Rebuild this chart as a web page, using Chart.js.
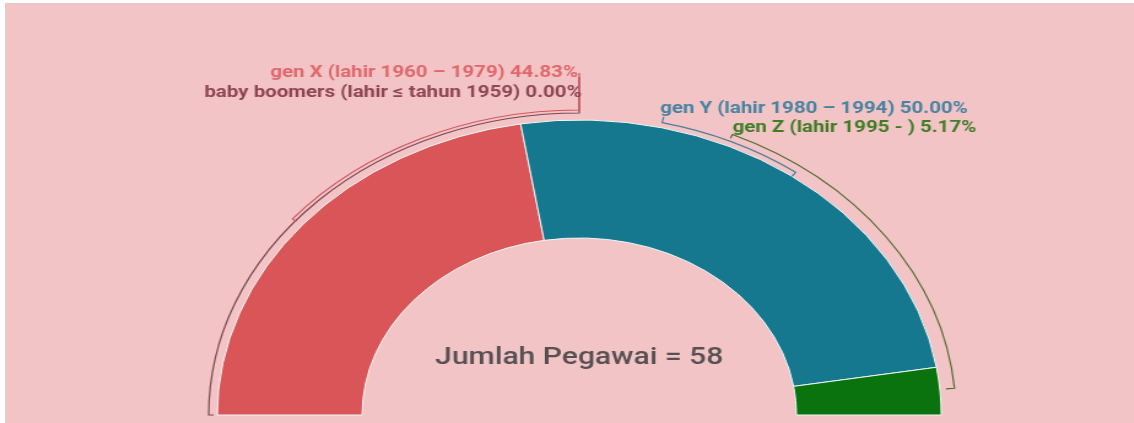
<!DOCTYPE html>
<html>
<head>
<meta charset="utf-8">
<script src="https://cdn.jsdelivr.net/npm/chart.js@4.4.0/dist/chart.umd.min.js"></script>
<style>
  html, body { margin: 0; padding: 0; background: #fff; overflow: hidden; }
  #panel {
    position: absolute; left: 5px; top: 3px;
    width: 1129px; height: 420px;
    background: #f2c4c6; overflow: hidden;
  }
  /* the original picture is stretched sideways, so the canvas is too */
  #pegawai-chart { transform: scaleX(1.227); transform-origin: 0 0; }
</style>
</head>
<body>
<div id="panel">
  <canvas id="pegawai-chart" width="920" height="420"></canvas>
</div>
<script>
// ============================================================= data

const categories = [
  "baby boomers (lahir \u2264 tahun 1959)",
  "gen X (lahir 1960 \u2013 1979)",
  "gen Y (lahir 1980 \u2013 1994)",
  "gen Z (lahir 1995 - )"
];
const employees = [0, 26, 29, 3];
const sliceColors = ["#8f4553", "#da5557", "#16788f", "#0b730d"];
const labelColors = ["#8f4553", "#e0676c", "#4683a0", "#3f7d25"];

const total = employees.reduce((a, b) => a + b, 0);

// ============================================================= label + bracket layout
// label: anchor relative to the doughnut centre (canvas px), align
let labelLayout = [
  { dx: 2,   y: 93.5,  align: "right" },
  { dx: -1,  y: 73.5,  align: "right" },
  { dx: 66,  y: 110,   align: "left"  },
  { dx: 125, y: 128.5, align: "left"  }
];
// bracket arcs outside the ring: angles in degrees (0 = right, 90 = top)
let brackets = [
  { color: "#7a4650", gap: 7,  from: 180, to: 90, tickFrom: -4, tickTo: 36 },
  { color: "#d4545c", gap: 10, from: 140, to: 90, tickFrom: -4, tickTo: 37 },
  { color: "#4a7f96", gap: 5,  from: 77,  to: 54, tickFrom: 6,  tickTo: -5 },
  { color: "#4f6a2c", gap: 12, from: 66,  to: 5,  tickFrom: -4, tickTo: -7 }
];

// ============================================================= plugin for texts and brackets
const gaugeDecor = {
  id: "gaugeDecor",
  afterDraw(chart) {
    const ctx = chart.ctx;
    const arc = chart.getDatasetMeta(0).data[1];
    const cx = arc.x, cy = arc.y, R = arc.outerRadius;

    ctx.save();
    // brackets
    brackets.forEach(b => {
      const r = R + b.gap;
      const a1 = b.from * Math.PI / 180, a2 = b.to * Math.PI / 180;
      const p = (a, rr) => [cx + rr * Math.cos(a), cy - rr * Math.sin(a)];
      ctx.strokeStyle = b.color;
      ctx.lineWidth = 1.2;
      ctx.beginPath();
      let s0 = p(a1, r + b.tickFrom), s1 = p(a1, r);
      ctx.moveTo(s0[0], s0[1]);
      ctx.lineTo(s1[0], s1[1]);
      ctx.arc(cx, cy, r, -a1, -a2, false);
      let e1 = p(a2, r + b.tickTo);
      ctx.lineTo(e1[0], e1[1]);
      ctx.stroke();
    });

    // slice labels
    ctx.font = "bold 16.7px Roboto";
    ctx.textBaseline = "alphabetic";
    categories.forEach((name, i) => {
      const pct = (employees[i] / total * 100).toFixed(2);
      const l = labelLayout[i];
      ctx.fillStyle = labelColors[i];
      ctx.textAlign = l.align;
      ctx.fillText(name + " " + pct + "%", cx + l.dx, l.y);
    });

    // centre text
    ctx.font = "500 24.5px Roboto";
    ctx.fillStyle = "#565052";
    ctx.textAlign = "center";
    ctx.fillText("Jumlah Pegawai = " + total, cx, cy - 51);
    ctx.restore();
  }
};

// ============================================================= half doughnut
let pegawaiChart = document.getElementById("pegawai-chart");

let pegawaiData = {
  labels: categories,
  datasets: [{
    data: employees,
    backgroundColor: sliceColors,
    borderColor: "#eef7f6",
    borderWidth: 1
  }]
};

let pegawaiOptions = {
  responsive: false,
  animation: false,
  rotation: -90,
  circumference: 180,
  cutout: "60%",
  radius: 295,
  layout: {
    padding: { left: 173, right: 157, top: 117, bottom: 8 }
  },
  plugins: {
    legend: { display: false },
    tooltip: { enabled: false }
  }
};

new Chart(pegawaiChart, {
  type: "doughnut",
  data: pegawaiData,
  options: pegawaiOptions,
  plugins: [gaugeDecor]
});
</script>
</body>
</html>
